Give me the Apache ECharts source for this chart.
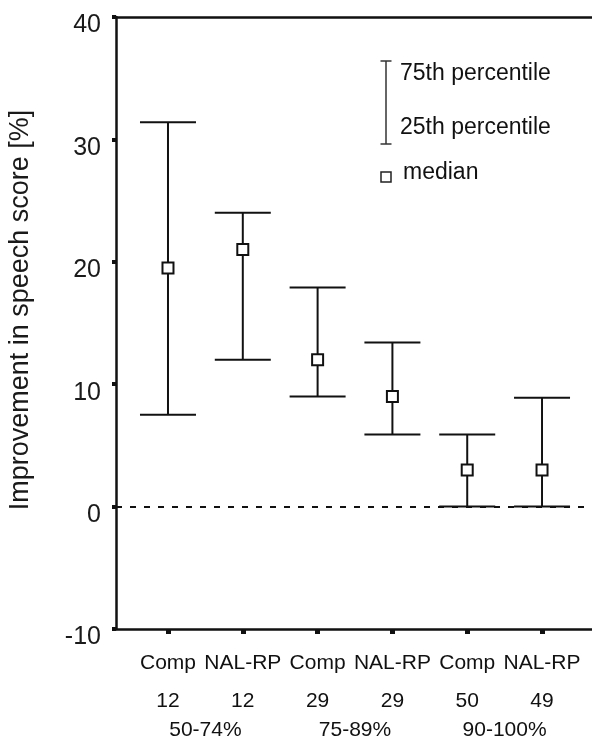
<!DOCTYPE html>
<html>
<head>
<meta charset="utf-8">
<script src="https://cdn.jsdelivr.net/npm/echarts@6/dist/echarts.min.js"></script>
<style>
html,body{margin:0;padding:0;background:#fff;}
#chart{width:592px;height:739px;}
</style>
</head>
<body>
<div id="chart"></div>
<script>
var categories = ['Comp', 'NAL-RP', 'Comp', 'NAL-RP', 'Comp', 'NAL-RP'];
var counts = ['12', '12', '29', '29', '50', '49'];
var groups = ['50-74%', '75-89%', '90-100%'];
var p25 = [7.5, 12, 9, 5.9, 0, 0];
var p75 = [31.4, 24, 17.9, 13.4, 5.9, 8.9];
var median = [19.5, 21, 12, 9, 3, 3];

var FONT = 'Liberation Sans, Arial, sans-serif';
var INK = '#111';

var positions = categories.map(function (c, i) { return i + 1; });
var groupPositions = groups.map(function (g, i) { return 2 * i + 1.5; });

var barData = categories.map(function (c, i) { return [positions[i], p25[i], p75[i]]; });
var medData = categories.map(function (c, i) { return [positions[i], median[i]]; });

var chart = echarts.init(document.getElementById('chart'), null, { renderer: 'canvas' });

var XMIN = 0.305, XMAX = 6.668;

var option = {
  animation: false,
  backgroundColor: '#fff',
  grid: { left: 116, right: 0, top: 17, bottom: 110, containLabel: false, outerBoundsMode: 'none' },
  xAxis: [{
    type: 'value',
    min: XMIN,
    max: XMAX,
    position: 'bottom',
    axisLine: { show: true, onZero: false, lineStyle: { color: INK, width: 2.5 } },
    axisTick: { show: true, customValues: positions, length: 5, lineStyle: { color: INK, width: 5 } },
    splitLine: { show: false },
    axisLabel: {
      show: true,
      customValues: positions,
      margin: 17,
      fontFamily: FONT,
      color: INK,
      hideOverlap: false,
      showMinLabel: true,
      showMaxLabel: true,
      formatter: function (v) {
        var idx = positions.indexOf(v);
        if (idx >= 0) {
          return '{a|' + categories[idx] + '}\n{b|' + counts[idx] + '}';
        }
        return '';
      },
      rich: {
        a: { fontSize: 21, lineHeight: 34, fontFamily: FONT, color: INK },
        b: { fontSize: 21, lineHeight: 42, fontFamily: FONT, color: INK }
      }
    }
  }, {
    type: 'value',
    min: XMIN,
    max: XMAX,
    position: 'top',
    axisLine: { show: true, onZero: false, lineStyle: { color: INK, width: 2.5 } },
    axisTick: { show: false },
    axisLabel: { show: false },
    splitLine: { show: false }
  }, {
    type: 'value',
    min: XMIN,
    max: XMAX,
    position: 'bottom',
    axisLine: { show: false, onZero: false },
    axisTick: { show: false },
    splitLine: { show: false },
    axisLabel: {
      show: true,
      customValues: groupPositions,
      margin: 91,
      fontFamily: FONT,
      fontSize: 21,
      lineHeight: 20,
      color: INK,
      showMinLabel: true,
      showMaxLabel: true,
      formatter: function (v) {
        var g = groupPositions.indexOf(v);
        return g >= 0 ? groups[g] : '';
      }
    }
  }],
  yAxis: {
    type: 'value',
    min: -10,
    max: 40,
    interval: 10,
    name: 'Improvement in speech score [%]',
    nameLocation: 'middle',
    nameRotate: 90,
    nameGap: 82,
    nameTextStyle: { fontFamily: FONT, fontSize: 27, color: '#1a1a1a', padding: [0, 0, 0, 26] },
    axisLine: { show: true, lineStyle: { color: INK, width: 2.5 } },
    axisTick: { show: true, length: 4, lineStyle: { color: INK, width: 4 } },
    splitLine: { show: false },
    axisLabel: {
      margin: 15,
      fontFamily: FONT,
      fontSize: 25,
      color: '#1a1a1a',
      verticalAlign: 'top',
      lineHeight: 17
    }
  },
  graphic: [
    { type: 'line', shape: { x1: 386, y1: 61, x2: 386, y2: 144 }, style: { stroke: '#333', lineWidth: 1.5 } },
    { type: 'line', shape: { x1: 380.5, y1: 61, x2: 391.5, y2: 61 }, style: { stroke: '#333', lineWidth: 1.5 } },
    { type: 'line', shape: { x1: 380.5, y1: 144, x2: 391.5, y2: 144 }, style: { stroke: '#333', lineWidth: 1.5 } },
    { type: 'text', x: 400, y: 74, style: { text: '75th percentile', font: '23px ' + FONT, fill: INK, verticalAlign: 'middle', textAlign: 'left' } },
    { type: 'text', x: 400, y: 128, style: { text: '25th percentile', font: '23px ' + FONT, fill: INK, verticalAlign: 'middle', textAlign: 'left' } },
    { type: 'rect', shape: { x: 381, y: 172, width: 10, height: 10 }, style: { stroke: '#222', lineWidth: 1.5, fill: '#fff' } },
    { type: 'text', x: 403, y: 173, style: { text: 'median', font: '23px ' + FONT, fill: INK, verticalAlign: 'middle', textAlign: 'left' } }
  ],
  series: [{
    type: 'custom',
    xAxisIndex: 0,
    yAxisIndex: 0,
    data: barData,
    z: 3,
    renderItem: function (params, api) {
      var x = api.value(0), lo = api.value(1), hi = api.value(2);
      var pLo = api.coord([x, lo]);
      var pHi = api.coord([x, hi]);
      var hw = 28;
      var st = { stroke: INK, lineWidth: 2 };
      return {
        type: 'group',
        children: [
          { type: 'line', shape: { x1: pHi[0], y1: pHi[1], x2: pLo[0], y2: pLo[1] }, style: st },
          { type: 'line', shape: { x1: pHi[0] - hw, y1: pHi[1], x2: pHi[0] + hw, y2: pHi[1] }, style: st },
          { type: 'line', shape: { x1: pLo[0] - hw, y1: pLo[1], x2: pLo[0] + hw, y2: pLo[1] }, style: st }
        ]
      };
    }
  }, {
    type: 'scatter',
    xAxisIndex: 0,
    yAxisIndex: 0,
    data: medData,
    symbol: 'rect',
    symbolSize: 11,
    z: 4,
    itemStyle: { color: '#fff', borderColor: INK, borderWidth: 2, opacity: 1 },
    markLine: {
      silent: true,
      symbol: 'none',
      label: { show: false },
      lineStyle: { color: INK, type: [6, 8], width: 2 },
      data: [{ yAxis: 0 }],
      z: 1
    }
  }]
};
chart.setOption(option);
</script>
</body>
</html>
